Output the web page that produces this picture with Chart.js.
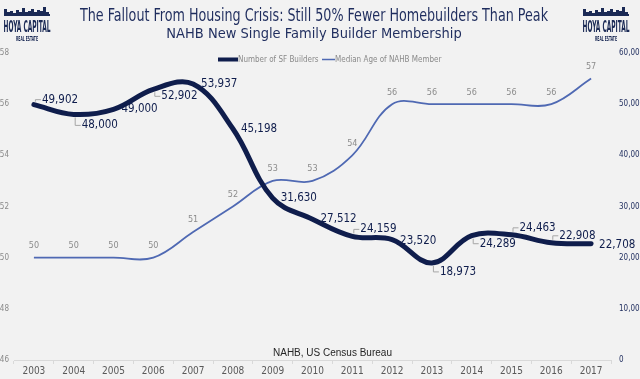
<!DOCTYPE html>
<html>
<head>
<meta charset="utf-8">
<script src="https://cdn.jsdelivr.net/npm/chart.js@4.4.1/dist/chart.umd.min.js"></script>
<style>
html,body{margin:0;padding:0;background:#f2f2f2;}
#wrap{width:640px;height:379px;position:relative;}
</style>
</head>
<body>
<div id="wrap"><canvas id="c" width="640" height="379"></canvas></div>
<script>
const years = ['2003','2004','2005','2006','2007','2008','2009','2010','2011','2012','2013','2014','2015','2016','2017'];
const sfBuilders = [49902,48000,49000,52902,53937,45198,31630,27512,24159,23520,18973,24289,24463,22908,22708];
const medianAge = [50,50,50,50,51,52,53,53,54,56,56,56,56,56,57];
const leftTicks = [46,48,50,52,54,56,58];
const rightTicks = [0,10000,20000,30000,40000,50000,60000];

const titleText = 'The Fallout From Housing Crisis: Still 50% Fewer Homebuilders Than Peak';
const subtitleText = 'NAHB New Single Family Builder Membership';
const sourceText = 'NAHB, US Census Bureau';
const seriesNames = ['Number of SF Builders','Median Age of NAHB Member'];

// label vertical offsets (layout only)
const builderLabelDy = [-5,11,0,7,0,0,0,0,-7,1,9,8,-7,-7,1];

const NAVY = '#0f1d4c';
const BLUE = '#4f69b3';
const NARROW = "'Liberation Sans Narrow','DejaVu Sans Condensed',sans-serif";

function drawLogo(ctx, x, y) {
  ctx.save();
  ctx.fillStyle = '#1b2a55';
  const bars = [[0,6],[3,3],[6,4],[9,2],[12,5],[15,3],[18,7],[21,3],[24,4],[27,6],[30,3],[33,5],[36,4],[39,8],[42,3]];
  for (const [bx,h] of bars) ctx.fillRect(x+bx, y+12-h, 3, h);
  ctx.fillRect(x, y+11, 46, 2);
  ctx.font = "bold 16px 'DejaVu Sans Condensed',sans-serif";
  ctx.textAlign = 'center';
  ctx.textBaseline = 'alphabetic';
  ctx.fillText('HOYA CAPITAL', x+23, y+29, 47);
  ctx.font = "bold 7px 'DejaVu Sans Condensed',sans-serif";
  ctx.fillText('REAL ESTATE', x+23, y+38, 22);
  ctx.restore();
}

const decor = {
  id: 'decor',
  afterDraw(chart) {
    const ctx = chart.ctx;
    ctx.save();
    ctx.fillStyle = '#1f2d5e';
    ctx.textAlign = 'center';
    ctx.textBaseline = 'alphabetic';
    ctx.font = "18px " + NARROW;
    ctx.fillText(titleText, 314, 21, 468);
    ctx.font = "14.5px " + NARROW;
    ctx.fillText(subtitleText, 314, 38, 302);
    drawLogo(ctx, 4, 3);
    drawLogo(ctx, 583, 3);

    // Legend
    ctx.strokeStyle = NAVY; ctx.lineWidth = 4; ctx.lineCap = 'butt';
    ctx.beginPath(); ctx.moveTo(218,59.5); ctx.lineTo(238,59.5); ctx.stroke();
    ctx.strokeStyle = BLUE; ctx.lineWidth = 1.5;
    ctx.beginPath(); ctx.moveTo(322,59.5); ctx.lineTo(335,59.5); ctx.stroke();
    ctx.fillStyle = '#8a8a8a';
    ctx.font = "8px " + NARROW;
    ctx.textAlign = 'left'; ctx.textBaseline = 'middle';
    ctx.fillText(seriesNames[0], 238, 59.5);
    ctx.fillText(seriesNames[1], 335, 59.5);

    // Source
    ctx.fillStyle = '#262626';
    ctx.font = "10px 'Liberation Sans',Arial,sans-serif";
    ctx.textAlign = 'left'; ctx.textBaseline = 'middle';
    ctx.fillText(sourceText, 273, 353);

    // Age labels
    const m1 = chart.getDatasetMeta(1);
    ctx.fillStyle = '#8c8c8c';
    ctx.font = "9px " + NARROW;
    ctx.textAlign = 'center'; ctx.textBaseline = 'middle';
    m1.data.forEach((pt, i) => {
      ctx.fillText(String(medianAge[i]), pt.x, pt.y - 12);
    });

    // Builder labels
    const m0 = chart.getDatasetMeta(0);
    ctx.font = "11.5px " + NARROW;
    ctx.textAlign = 'left'; ctx.textBaseline = 'middle';
    m0.data.forEach((pt, i) => {
      const lx = pt.x + 8, ly = pt.y + builderLabelDy[i];
      const dy = builderLabelDy[i];
      if (Math.abs(dy) > 3) {
        ctx.strokeStyle = '#a6a6a6'; ctx.lineWidth = 1;
        ctx.beginPath();
        ctx.moveTo(pt.x + 1.5, pt.y + (dy > 0 ? 3 : -3));
        ctx.lineTo(pt.x + 1.5, ly);
        ctx.lineTo(lx - 1, ly);
        ctx.stroke();
      }
      ctx.fillStyle = NAVY;
      ctx.fillText(sfBuilders[i].toLocaleString('en-US'), lx, ly);
    });
    ctx.restore();
  }
};

new Chart(document.getElementById('c'), {
  type: 'line',
  data: {
    labels: years,
    datasets: [
      { label: seriesNames[0], data: sfBuilders, yAxisID: 'y1', borderColor: NAVY, backgroundColor: NAVY,
        borderWidth: 5, pointRadius: 0, tension: 0.38, borderCapStyle: 'round', order: 0 },
      { label: seriesNames[1], data: medianAge, yAxisID: 'y', borderColor: BLUE, backgroundColor: BLUE,
        borderWidth: 1.8, pointRadius: 0, tension: 0.38, order: 1 }
    ]
  },
  options: {
    responsive: false,
    animation: false,
    events: [],
    layout: { padding: { top: 53, left: 0, right: 0, bottom: 0 } },
    plugins: { legend: { display: false }, title: { display: false }, tooltip: { enabled: false } },
    scales: {
      x: {
        offset: true,
        grid: { offset: true, drawOnChartArea: false, drawTicks: true, tickLength: 4, color: '#d9d9d9' },
        border: { color: '#d9d9d9' },
        ticks: { color: '#595959', font: { size: 10, family: NARROW }, padding: 1, maxRotation: 0, autoSkip: false },
        afterFit(s) { s.height = 19; }
      },
      y: {
        position: 'left', min: 46, max: 58,
        afterBuildTicks(s) { s.ticks = leftTicks.map(v => ({ value: v })); },
        grid: { display: false, drawTicks: false }, border: { display: false },
        ticks: { color: '#8a8a8a', font: { size: 8, family: NARROW }, padding: 5 },
        afterFit(s) { s.width = 14; }
      },
      y1: {
        position: 'right', min: 0, max: 60000,
        afterBuildTicks(s) { s.ticks = rightTicks.map(v => ({ value: v })); },
        grid: { display: false, drawTicks: false }, border: { display: false },
        ticks: { color: '#1f2d5e', font: { size: 8, family: NARROW }, padding: 8,
          callback: v => Number(v).toLocaleString('en-US') },
        afterFit(s) { s.width = 29; }
      }
    }
  },
  plugins: [decor]
});
</script>
</body>
</html>
